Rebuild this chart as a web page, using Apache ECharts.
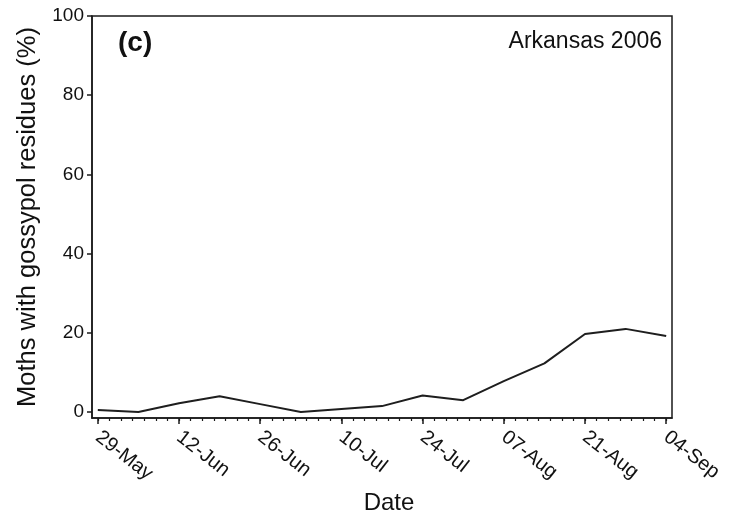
<!DOCTYPE html>
<html>
<head>
<meta charset="utf-8">
<script src="https://cdn.jsdelivr.net/npm/echarts@6/dist/echarts.min.js"></script>
<style>
  html, body { margin: 0; padding: 0; background: #fff; }
  #chart { width: 739px; height: 517px; }
</style>
</head>
<body>
<div id="chart"></div>
<script>
// Weekly sampling dates (2006) and percentage of moths carrying gossypol residues
const sampleDates = ['29-May', '05-Jun', '12-Jun', '19-Jun', '26-Jun', '03-Jul', '10-Jul', '17-Jul',
                     '24-Jul', '31-Jul', '07-Aug', '14-Aug', '21-Aug', '28-Aug', '04-Sep'];
const gossypolPct = [0.5, 0.0, 2.2, 4.0, 2.0, 0.0, 0.8, 1.5,
                     4.2, 3.0, 7.8, 12.3, 19.7, 21.0, 19.2];

// Axis tick labels
const dateTickLabels = ['29-May', '12-Jun', '26-Jun', '10-Jul', '24-Jul', '07-Aug', '21-Aug', '04-Sep'];
const pctTickLabels = [0, 20, 40, 60, 80, 100];

const MONTHS = { May: 4, Jun: 5, Jul: 6, Aug: 7, Sep: 8 };
function dayOf(label) {
  const [d, m] = label.split('-');
  return new Date(2006, MONTHS[m], Number(d));
}
const origin = dayOf(dateTickLabels[0]);
function dayOffset(label) {
  return Math.round((dayOf(label) - origin) / 86400000);
}

const majorDays = dateTickLabels.map(dayOffset);
const lastDay = majorDays[majorDays.length - 1];
const minorDays = [];
for (let d = 0; d <= lastDay; d += 2) minorDays.push(d);

const seriesData = sampleDates.map((s, i) => [dayOffset(s), gossypolPct[i]]);

const FONT = '"Liberation Sans", Arial, Helvetica, sans-serif';
const INK = '#111';
const chart = echarts.init(document.getElementById('chart'), null, { renderer: 'canvas' });

chart.setOption({
  backgroundColor: '#ffffff',
  animation: false,
  grid: {
    left: 92, right: 67, top: 16, bottom: 99,
    outerBoundsMode: 'none', containLabel: false,
    show: true, borderColor: '#1a1a1a', borderWidth: 1.5, backgroundColor: 'transparent'
  },
  title: [
    { text: '(c)', left: 113, top: 24,
      textStyle: { fontFamily: FONT, fontSize: 28, fontWeight: 'bold', color: INK } },
    { text: 'Arkansas 2006', right: 72, top: 25,
      textStyle: { fontFamily: FONT, fontSize: 23, fontWeight: 'normal', color: INK } }
  ],
  xAxis: [
    {
      type: 'value', min: -1, max: lastDay + 1, position: 'bottom',
      name: 'Date', nameLocation: 'middle', nameGap: 73,
      nameTextStyle: { fontFamily: FONT, fontSize: 24, color: INK, padding: [0, 0, 0, 14] },
      axisLine: { show: true, onZero: false, lineStyle: { color: '#1a1a1a', width: 1.5 } },
      axisTick: { show: true, customValues: majorDays, length: 6, inside: false,
                  lineStyle: { color: '#1a1a1a', width: 1.5 } },
      axisLabel: {
        customValues: majorDays, rotate: -38, margin: 17,
        fontFamily: FONT, fontSize: 20, color: INK,
        formatter: v => dateTickLabels[majorDays.indexOf(Math.round(v))] || ''
      },
      splitLine: { show: false }
    },
    {
      type: 'value', min: -1, max: lastDay + 1, position: 'bottom',
      axisLine: { show: false, onZero: false },
      axisTick: { show: true, customValues: minorDays, length: 3, inside: false,
                  lineStyle: { color: '#1a1a1a', width: 1.2 } },
      axisLabel: { show: false },
      splitLine: { show: false }
    }
  ],
  yAxis: {
    type: 'value', min: -1.5, max: 100,
    name: 'Moths with gossypol residues (%)', nameLocation: 'middle', nameGap: 36,
    nameTextStyle: { fontFamily: FONT, fontSize: 25.5, color: INK },
    axisLine: { show: true, onZero: false, lineStyle: { color: '#1a1a1a', width: 1.5 } },
    axisTick: { show: true, customValues: pctTickLabels, length: 5,
                lineStyle: { color: '#1a1a1a', width: 1.5 } },
    axisLabel: { customValues: pctTickLabels, margin: 8,
                 fontFamily: FONT, fontSize: 19, color: INK },
    splitLine: { show: false }
  },
  series: [{
    type: 'line', xAxisIndex: 0, data: seriesData,
    showSymbol: false, symbol: 'none',
    lineStyle: { color: '#1e1e1e', width: 2 }
  }]
});
</script>
</body>
</html>
